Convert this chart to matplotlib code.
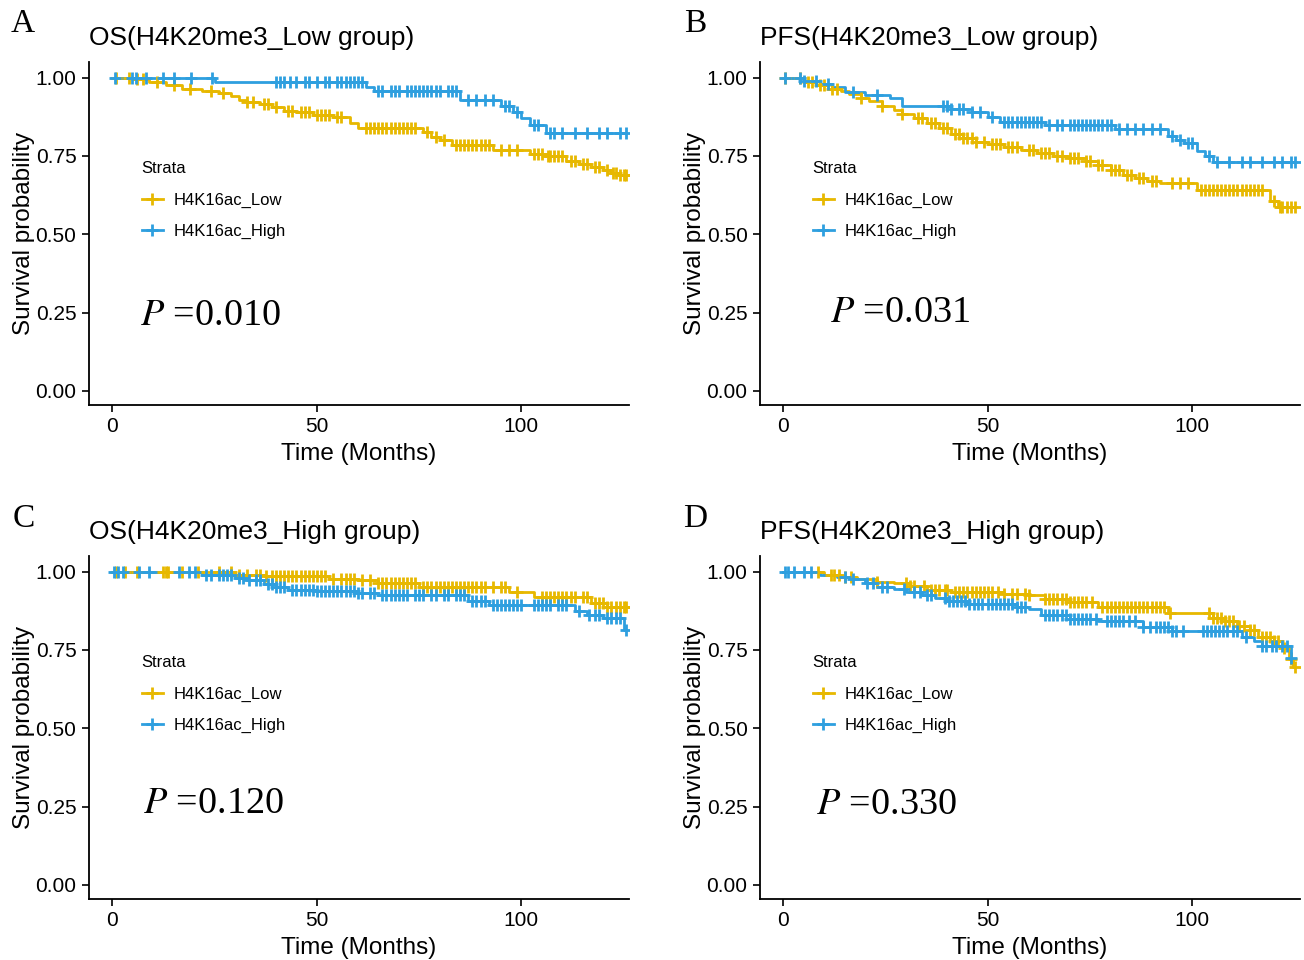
"""Kaplan-Meier panels (OS / PFS by H4K16ac within H4K20me3 groups)."""
import numpy as np
import matplotlib
matplotlib.use("Agg")
import matplotlib.pyplot as plt
from matplotlib.lines import Line2D

SANS = "Liberation Sans"
SERIF = "Liberation Serif"
C_LOW = "#E7B800"
C_HIGH = "#2E9FDF"

letters = ["A", "B", "C", "D"]
titles = ["OS(H4K20me3_Low group)", "PFS(H4K20me3_Low group)",
          "OS(H4K20me3_High group)", "PFS(H4K20me3_High group)"]
pvals = ["0.010", "0.031", "0.120", "0.330"]
strata = ["H4K16ac_Low", "H4K16ac_High"]

# ---- panel A: OS, H4K20me3 low ----
a_low_t = [5, 9, 13, 17, 22, 26, 29, 31, 33, 36, 39, 42, 45, 49, 54, 58, 60, 76, 78, 80,
           83, 93, 102, 106, 111, 114, 117, 120, 122, 124]
a_low_s = [0.995, 0.985, 0.975, 0.965, 0.958, 0.95, 0.94, 0.93, 0.922, 0.915, 0.905, 0.895,
           0.89, 0.882, 0.875, 0.855, 0.84, 0.825, 0.81, 0.80, 0.786, 0.77, 0.757, 0.75,
           0.735, 0.725, 0.715, 0.705, 0.695, 0.688]
a_low_c = [1, 4, 6, 7.5, 11, 15, 19, 24, 27, 33, 34.5, 37, 38, 40, 43, 44, 46, 47, 48, 50,
           51, 52, 53, 55, 56, 62, 63, 64, 65, 66, 67, 68, 69, 70, 71, 72, 73, 74, 77, 79,
           81, 84, 85, 86, 87, 88, 89, 90, 91, 92, 95, 97, 99, 103, 104, 105, 106.5, 107,
           108, 109, 110, 112, 113, 115, 116, 118, 119, 121, 122.5, 123, 124, 125, 125.5]
a_high_t = [25, 62, 64, 85, 95, 98, 100, 102, 106]
a_high_s = [0.985, 0.97, 0.958, 0.93, 0.91, 0.89, 0.87, 0.85, 0.824]
a_high_c = [0.6, 4.8, 5.7, 8.2, 12.5, 15, 19.3, 24.4, 40, 41, 42, 43.5, 45, 47, 48, 50, 52,
            53, 55, 56, 57, 58, 59, 60, 61, 65, 66, 68, 69, 70, 72, 73, 74, 75, 76, 77, 78,
            79, 80, 82, 83, 84, 87, 89, 91, 93, 96, 97, 99, 103, 104, 107, 108, 110, 113,
            116, 119, 121, 124, 125.5]

# ---- panel B: PFS, H4K20me3 low ----
b_low_t = [5, 8, 11, 14, 16, 19, 21, 24, 27, 29, 32, 35, 38, 41, 44, 47, 50, 54, 58, 62,
           66, 70, 74, 77, 80, 83, 86, 89, 92, 101, 119, 121]
b_low_s = [0.985, 0.975, 0.965, 0.958, 0.948, 0.935, 0.925, 0.91, 0.898, 0.885, 0.87,
           0.855, 0.84, 0.82, 0.808, 0.795, 0.787, 0.778, 0.77, 0.76, 0.75, 0.745, 0.735,
           0.72, 0.705, 0.69, 0.68, 0.67, 0.665, 0.64, 0.605, 0.588]
b_low_c = [0.5, 4, 6, 7, 9, 10, 12, 13, 19, 24, 29, 33, 34, 36, 37, 39, 40, 42, 43, 44, 45,
           46, 47, 49, 51, 52, 53, 55, 56, 57, 60, 61, 63, 64, 65, 67, 68, 70, 71, 72, 74,
           75, 77, 78, 80, 81, 82, 84, 85, 87, 88, 90, 91, 95, 97, 99, 102, 103, 104, 105,
           106, 107, 108, 109, 110, 111, 112, 113, 114, 115, 116, 117, 120, 121.5, 122,
           123, 124, 125]
b_high_t = [5, 9, 12, 15, 20, 26, 29, 41, 46, 50, 53, 64, 81, 94, 96, 98, 101, 103, 105]
b_high_s = [0.99, 0.98, 0.97, 0.955, 0.945, 0.935, 0.91, 0.90, 0.89, 0.875, 0.86, 0.85,
            0.835, 0.815, 0.80, 0.79, 0.765, 0.75, 0.73]
b_high_c = [0.5, 4, 5, 8, 11, 17, 23, 39, 40, 41, 43, 44, 46, 48, 51, 54, 55, 56, 57, 58,
            59, 60, 61, 62, 63, 65, 67, 68, 70, 71, 72, 73, 74, 75, 76, 77, 78, 79, 80, 82,
            84, 86, 88, 90, 92, 95, 97, 99, 100, 104, 106, 109, 112, 114, 117, 120, 122,
            124, 125]

# ---- panel C: OS, H4K20me3 high ----
c_low_t = [30, 37, 53, 60, 65, 75, 97, 103, 117, 121]
c_low_s = [0.99, 0.985, 0.978, 0.972, 0.963, 0.95, 0.935, 0.92, 0.90, 0.888]
c_low_c = [1, 3, 6, 12.5, 13, 13.5, 17, 21, 26, 29, 31, 33, 35, 36, 37.5, 39, 40, 41, 42,
           43, 44, 45, 46, 47, 48, 49, 50, 51, 52, 54, 56, 57, 58, 59, 61, 63, 65, 66, 67,
           68, 69, 70, 71, 72, 73, 74, 76, 77, 78, 79, 80, 81, 82, 83, 84, 85, 86, 87, 88,
           89, 90, 91, 93, 95, 96, 99, 105, 106, 107, 108, 109, 110, 111, 112, 113, 115,
           116, 118, 119, 120, 121, 122, 123, 124, 125, 125.5]
c_high_t = [22, 30, 33, 37, 40, 43, 50, 60, 65, 87, 92, 113, 116, 120, 125]
c_high_s = [0.99, 0.98, 0.972, 0.962, 0.952, 0.942, 0.937, 0.932, 0.927, 0.905, 0.895,
            0.875, 0.862, 0.852, 0.815]
c_high_c = [0.3, 1.5, 2.5, 6.4, 8.9, 16.2, 18.7, 20.3, 23, 24, 26, 27, 28, 29, 31, 32, 33.5,
            35, 36, 38, 39, 40, 41, 42, 44, 45, 46, 47, 48, 49, 50, 51, 52, 53, 54, 55, 56,
            57, 58, 59, 60, 61, 63, 64, 66, 67, 68, 69, 70, 71, 72, 74, 75, 76, 78, 79, 81,
            82, 84, 85, 86, 88, 89, 90, 91, 93, 94, 95, 96, 97, 98, 99, 100, 103, 104, 105,
            106, 107, 109, 110, 111, 114, 116.5, 118, 119, 121, 122, 123, 124, 125.5]

# ---- panel D: PFS, H4K20me3 high ----
d_low_t = [10, 14, 18, 23, 27, 31, 35, 41, 54, 60, 64, 70, 77, 94, 105, 108, 111, 114, 116,
           120, 122, 123.5, 124.5]
d_low_s = [0.99, 0.982, 0.975, 0.968, 0.963, 0.955, 0.942, 0.935, 0.928, 0.925, 0.912,
           0.902, 0.887, 0.868, 0.853, 0.842, 0.826, 0.815, 0.792, 0.778, 0.755, 0.72, 0.695]
d_low_c = [8.4, 11.6, 12.5, 13.5, 15, 16.5, 23, 30, 31, 32, 34.5, 36, 37, 38, 39.5, 40, 42,
           43, 44, 45, 46, 47, 48, 49, 50, 51, 52.4, 54, 56, 57, 59, 60, 64, 65, 66, 67, 68,
           69, 70, 71, 72, 73, 74, 75.5, 78, 79, 80, 81, 82, 83, 84, 85, 86, 87, 88, 89, 90,
           91, 92, 93, 94.5, 104, 105, 106, 107, 108, 109, 110, 111.5, 112.5, 114, 115, 117,
           118, 119, 120, 121, 122.5, 124, 125]
d_high_t = [9, 13, 17, 20, 23, 27, 30, 34, 37, 40, 45, 57, 60, 63, 70, 77, 88, 95, 112, 115,
            117, 124]
d_high_s = [0.99, 0.982, 0.975, 0.965, 0.952, 0.945, 0.936, 0.925, 0.917, 0.905, 0.897,
            0.888, 0.88, 0.862, 0.85, 0.841, 0.822, 0.81, 0.79, 0.778, 0.762, 0.725]
d_high_c = [0.3, 1.2, 2.5, 5, 6.8, 15, 17, 20.5, 22, 24, 25.3, 29.6, 32, 33.5, 35, 36, 39.5,
            40.5, 41.5, 42.5, 43.5, 44.5, 45.5, 46.5, 47.5, 48.5, 50, 51, 52, 53, 54, 55, 56,
            57, 58, 59, 64, 65, 66, 67, 68, 69, 70, 71, 72, 73, 74, 75, 76.5, 79, 80, 81, 82,
            83, 84.5, 86, 88, 89.6, 91, 92, 93, 94, 95, 96, 97.8, 102.5, 103.5, 104.5, 105.5,
            106.5, 107.5, 108.5, 110, 111, 113, 117, 118, 119.5, 120.5, 122, 123, 124]

panels = [
    ((a_low_t, a_low_s, a_low_c), (a_high_t, a_high_s, a_high_c)),
    ((b_low_t, b_low_s, b_low_c), (b_high_t, b_high_s, b_high_c)),
    ((c_low_t, c_low_s, c_low_c), (c_high_t, c_high_s, c_high_c)),
    ((d_low_t, d_low_s, d_low_c), (d_high_t, d_high_s, d_high_c)),
]
p_pos = [(6.8, 0.24), (11.5, 0.25), (7.6, 0.26), (8.0, 0.255)]


def km(ax, t, s, cens, color):
    t = np.asarray(t, float); s = np.asarray(s, float); cens = np.asarray(cens, float)
    end = max(t.max(), cens.max())
    xs = np.concatenate([[0], t, [end]])
    ys = np.concatenate([[1.0], s, [s[-1]]])
    ax.step(xs, ys, where="post", color=color, lw=2.0, zorder=2)
    idx = np.searchsorted(t, cens, side="right")
    cs = np.where(idx > 0, s[np.maximum(idx - 1, 0)], 1.0)
    ax.plot(cens, cs, ls="none", marker="+", ms=9, mew=2.0, color=color, zorder=3)


fig = plt.figure(figsize=(13.04, 9.6), dpi=100)
W, H = 1304, 960
lefts = [89, 760, 89, 760]
bottoms = [405, 405, 899, 899]
letter_xy = [(23, 24), (695, 24), (24, 519), (695, 519)]

for i in range(4):
    l, b = lefts[i], bottoms[i]
    ax = fig.add_axes([l / W, (H - b) / H, 540 / W, 343 / H])
    (lt, ls_, lc), (ht, hs, hc) = panels[i]
    km(ax, lt, ls_, lc, C_LOW)
    km(ax, ht, hs, hc, C_HIGH)
    ax.set_xlim(-5.7, 126.3)
    ax.set_ylim(-0.045, 1.05)
    ax.set_xticks([0, 50, 100])
    ax.set_yticks([0, 0.25, 0.5, 0.75, 1.0])
    ax.set_yticklabels(["0.00", "0.25", "0.50", "0.75", "1.00"])
    for sp in ("top", "right"):
        ax.spines[sp].set_visible(False)
    for sp in ("left", "bottom"):
        ax.spines[sp].set_linewidth(1.3)
    ax.tick_params(length=5, width=1.2, labelsize=15, pad=4, colors="black")
    for lab in ax.get_xticklabels() + ax.get_yticklabels():
        lab.set_family(SANS)
    ax.set_xlabel("Time (Months)", fontsize=17.5, family=SANS, labelpad=5)
    ax.set_ylabel("Survival probability", fontsize=17.5, family=SANS, labelpad=0)
    ax.text(0, 1.07, titles[i], transform=ax.transAxes, ha="left", va="center",
            fontsize=19, family=SANS)
    px, py = p_pos[i]
    ax.text(px, py, r"$\it{P}$ =" + pvals[i], ha="left", va="center", fontsize=27.5,
            family=SERIF, math_fontfamily="stix")
    handles = [Line2D([], [], color=c, lw=2.0, marker="+", ms=9, mew=2.0)
               for c in (C_LOW, C_HIGH)]
    leg = ax.legend(handles, strata, title="Strata", loc="upper left",
                    bbox_to_anchor=(0.082, 0.735), frameon=False, borderpad=0,
                    handlelength=1.3, handletextpad=0.6, labelspacing=0.95,
                    prop={"family": SANS, "size": 12},
                    title_fontproperties={"family": SANS, "size": 12})
    leg._legend_box.align = "left"
    leg._legend_box.sep = 12
    fx, fy = letter_xy[i]
    fig.text(fx / W, 1 - fy / H, letters[i], ha="center", va="center",
             fontsize=24, family=SERIF)

fig.savefig("out.png", dpi=100)
